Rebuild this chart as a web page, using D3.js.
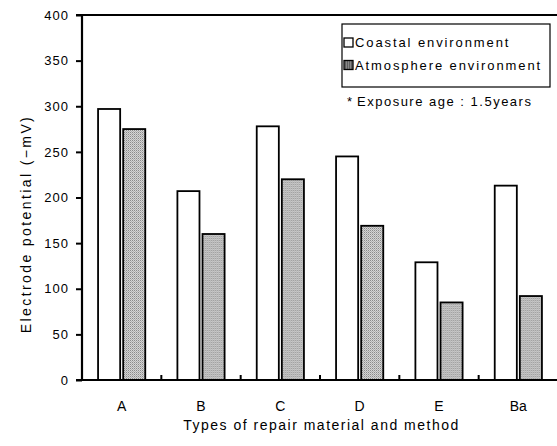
<!DOCTYPE html>
<html><head><meta charset="utf-8">
<script src="https://cdn.jsdelivr.net/npm/d3@7"></script>
<style>
html,body{margin:0;padding:0;background:#fff;}
svg{display:block;font-family:"Liberation Sans",Arial,sans-serif;}
</style></head>
<body><svg id="c" width="557" height="446"></svg>
<script>
const categories = ["A","B","C","D","E","Ba"];
const seriesNames = ["Coastal environment","Atmosphere environment"];
const coastal = [297, 207, 278, 245, 129, 213];
const atmosphere = [275, 160, 220, 169, 85, 92];
const yTicks = [0,50,100,150,200,250,300,350,400];
const xTitle = "Types of repair material and method";
const yTitle = "Electrode potential (\u2212mV)";
const note = "Exposure age : 1.5years";

const svg = d3.select("#c");
const L = 82, R = 558, T = 15, B = 380;

const defs = svg.append("defs");
const pat = defs.append("pattern").attr("id","dots").attr("width",2).attr("height",2).attr("patternUnits","userSpaceOnUse");
pat.append("rect").attr("width",2).attr("height",2).attr("fill","#d4d4d4");
pat.append("rect").attr("width",1).attr("height",1).attr("fill","#8a8a8a");
pat.append("rect").attr("x",1).attr("y",1).attr("width",1).attr("height",1).attr("fill","#b0b0b0");
const pat2 = defs.append("pattern").attr("id","dots2").attr("width",2).attr("height",2).attr("patternUnits","userSpaceOnUse");
pat2.append("rect").attr("width",2).attr("height",2).attr("fill","#888");
pat2.append("rect").attr("width",1).attr("height",1).attr("fill","#333");

const x = d3.scaleBand().domain(categories).range([L,R]).padding(0);
const xs = d3.scaleBand().domain(seriesNames).range([0,x.bandwidth()]).paddingInner(0.12).paddingOuter(0.64);
const y = d3.scaleLinear().domain([0,400]).range([B,T]);

const data = categories.map((c,i)=>({c, vals:[{s:seriesNames[0],v:coastal[i]},{s:seriesNames[1],v:atmosphere[i]}]}));

const g = svg.append("g");
g.selectAll("g.cat").data(data).join("g").attr("class","cat")
  .attr("transform",d=>`translate(${x(d.c)},0)`)
  .selectAll("rect").data(d=>d.vals).join("rect")
  .attr("x",d=>xs(d.s)).attr("width",xs.bandwidth())
  .attr("y",d=>y(d.v)).attr("height",d=>B-y(d.v))
  .attr("fill",d=>d.s===seriesNames[0]?"#fff":"url(#dots)")
  .attr("stroke","#000").attr("stroke-width",1.8);

// Y axis
const yAxis = d3.axisLeft(y).tickValues(yTicks).tickSize(6).tickPadding(7);
const ya = svg.append("g").attr("transform",`translate(${L},0)`).call(yAxis);
ya.select(".domain").attr("stroke","#000").attr("stroke-width",2.2).attr("d",`M0,${T}V${B}`);
ya.selectAll(".tick line").attr("stroke","#000").attr("stroke-width",2);
ya.selectAll(".tick text").attr("font-size",13).attr("fill","#000").style("letter-spacing","1px")
  .attr("font-family","Liberation Sans, Arial, sans-serif");

// X axis
const xAxis = d3.axisBottom(x).tickSize(0).tickPadding(21);
const xa = svg.append("g").attr("transform",`translate(0,${B})`).call(xAxis);
xa.select(".domain").attr("stroke","#000").attr("stroke-width",2.2).attr("d",`M${L-6},0H${557}`);
xa.selectAll(".tick text").attr("font-size",14).attr("fill","#000")
  .attr("font-family","Liberation Sans, Arial, sans-serif");
// boundary ticks (upward)
svg.append("g").selectAll("line").data(categories.slice(1)).join("line")
  .attr("x1",d=>x(d)).attr("x2",d=>x(d)).attr("y1",B).attr("y2",B-5)
  .attr("stroke","#000").attr("stroke-width",2);

// top line
svg.append("line").attr("x1",L-6).attr("x2",557).attr("y1",T).attr("y2",T)
  .attr("stroke","#000").attr("stroke-width",2.2);

// axis titles
svg.append("text").attr("x",(L+557)/2+2).attr("y",430).attr("text-anchor","middle")
  .attr("font-size",14).style("letter-spacing","1.5px").text(xTitle);
svg.append("text").attr("transform","translate(31,224) rotate(-90)").attr("text-anchor","middle")
  .attr("font-size",14).style("letter-spacing","2.4px").text(yTitle);

// legend
const lg = svg.append("g");
lg.append("rect").attr("x",342).attr("y",24).attr("width",208).attr("height",63)
  .attr("fill","#fff").attr("stroke","#000").attr("stroke-width",1.2);
const items = lg.selectAll("g.it").data(seriesNames).join("g").attr("class","it")
  .attr("transform",(d,i)=>`translate(343,${38+i*22.5})`);
items.append("rect").attr("x",1).attr("y",0).attr("width",9).attr("height",9)
  .attr("fill",(d,i)=>i===0?"#fff":"url(#dots2)").attr("stroke","#000").attr("stroke-width",1.3);
items.append("text").attr("x",12).attr("y",9).attr("font-size",13).style("letter-spacing","1.9px").text(d=>d);

// note
svg.append("text").attr("x",347).attr("y",106).attr("font-size",13).text("*");
svg.append("text").attr("x",357).attr("y",106).attr("font-size",13).style("letter-spacing","1.5px").text(note);
</script></body></html>
